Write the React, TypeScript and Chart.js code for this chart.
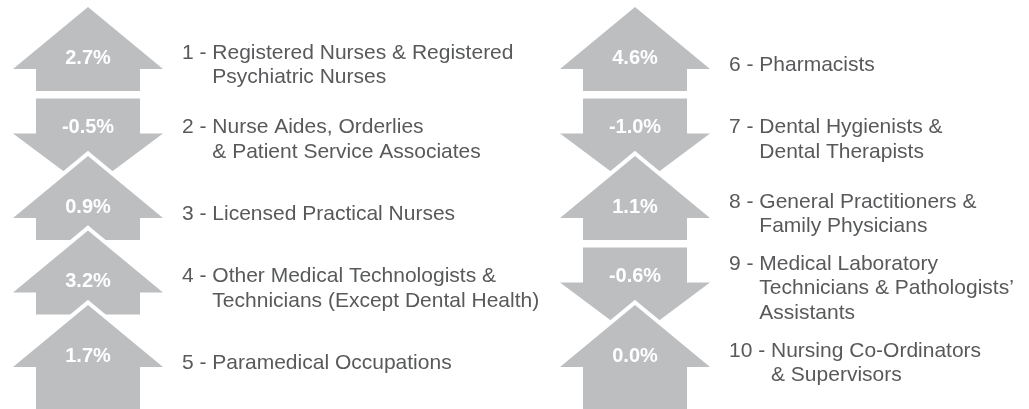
import React, { useEffect, useRef } from "react";
import { Chart, registerables } from "chart.js";

Chart.register(...registerables);

// ---- data ----
const occupationNumbers = [1, 2, 3, 4, 5, 6, 7, 8, 9, 10];
const occupationLines: string[][] = [
  ["Registered Nurses & Registered", "Psychiatric Nurses"],
  ["Nurse Aides, Orderlies", "& Patient Service Associates"],
  ["Licensed Practical Nurses"],
  ["Other Medical Technologists &", "Technicians (Except Dental Health)"],
  ["Paramedical Occupations"],
  ["Pharmacists"],
  ["Dental Hygienists &", "Dental Therapists"],
  ["General Practitioners &", "Family Physicians"],
  ["Medical Laboratory", "Technicians & Pathologists\u2019", "Assistants"],
  ["Nursing Co-Ordinators", "& Supervisors"],
];
const employmentChange = [2.7, -0.5, 0.9, 3.2, 1.7, 4.6, -1.0, 1.1, -0.6, 0.0];

// ---- layout / style constants ----
const ROWS_PER_COLUMN = 5;
const ARROW_FILL = "#bcbec0";
const TEXT_COLOR = "#58595b";
const FONT = '"Liberation Sans", Arial, Helvetica, sans-serif';
const HEAD_HALF = 75;
const SHAFT_HALF = 52;
const UP_HEAD_H = 62;
const UP_SHAFT_END = 84;
const DOWN_TOP = 17;
const DOWN_HEAD_START = 52;
const DOWN_HEAD_H = 56;
const TEXT_DX = 94;
const LINE_H = 24.5;
const TEXT_CENTER_DY = 58;

const COL_PITCH = 547;
const COL0_X = 88;
const ROW_PITCH = 74.5;
const ROW0_Y = 7;
const W = 1029;
const H = 409;

const arrowPlugin = {
  id: "arrowInfographic",
  afterDatasetsDraw(chart: any) {
    const ctx: CanvasRenderingContext2D = chart.ctx;
    const meta = chart.getDatasetMeta(0);
    const bottom = chart.chartArea.bottom;
    ctx.save();
    meta.data.forEach((el: any, i: number) => {
      const cx = el.x;
      const s = el.y;
      const v = employmentChange[i];
      const row = i % ROWS_PER_COLUMN;
      const isLast = row === ROWS_PER_COLUMN - 1;
      let labelY: number;
      ctx.beginPath();
      if (v >= 0) {
        const hb = s + UP_HEAD_H;
        const end = isLast ? bottom + 10 : s + UP_SHAFT_END;
        ctx.moveTo(cx, s);
        ctx.lineTo(cx + HEAD_HALF, hb);
        ctx.lineTo(cx + SHAFT_HALF, hb);
        ctx.lineTo(cx + SHAFT_HALF, end);
        ctx.lineTo(cx - SHAFT_HALF, end);
        ctx.lineTo(cx - SHAFT_HALF, hb);
        ctx.lineTo(cx - HEAD_HALF, hb);
        ctx.closePath();
        labelY = s + 51;
      } else {
        const top = s + DOWN_TOP;
        const hs = s + DOWN_HEAD_START;
        ctx.moveTo(cx - SHAFT_HALF, top);
        ctx.lineTo(cx + SHAFT_HALF, top);
        ctx.lineTo(cx + SHAFT_HALF, hs);
        ctx.lineTo(cx + HEAD_HALF, hs);
        ctx.lineTo(cx, hs + DOWN_HEAD_H);
        ctx.lineTo(cx - HEAD_HALF, hs);
        ctx.lineTo(cx - SHAFT_HALF, hs);
        ctx.closePath();
        labelY = s + 46;
      }
      ctx.lineJoin = "miter";
      ctx.lineWidth = 8;
      ctx.strokeStyle = "#ffffff";
      ctx.stroke();
      ctx.fillStyle = ARROW_FILL;
      ctx.fill();

      // percentage label
      ctx.fillStyle = "#ffffff";
      ctx.font = `bold 20px ${FONT}`;
      ctx.textAlign = "center";
      ctx.textBaseline = "middle";
      ctx.fillText(`${v.toFixed(1)}%`, cx, labelY);

      // description
      const lines = occupationLines[i];
      const prefix = `${occupationNumbers[i]} - `;
      ctx.font = `21px ${FONT}`;
      ctx.fillStyle = TEXT_COLOR;
      ctx.textAlign = "left";
      const tx = cx + TEXT_DX;
      const indent = ctx.measureText(prefix).width;
      const centerY = s + TEXT_CENTER_DY;
      const firstY = centerY - ((lines.length - 1) * LINE_H) / 2;
      lines.forEach((ln, k) => {
        const y = firstY + k * LINE_H;
        if (k === 0) ctx.fillText(prefix + ln, tx, y);
        else ctx.fillText(ln, tx + indent, y);
      });
    });
    ctx.restore();
  },
};

export default function App() {
  const ref = useRef<HTMLCanvasElement | null>(null);
  useEffect(() => {
    if (!ref.current) return;
    const points = employmentChange.map((_, i) => ({
      x: Math.floor(i / ROWS_PER_COLUMN),
      y: i % ROWS_PER_COLUMN,
    }));
    const xMin = -COL0_X / COL_PITCH;
    const yMin = -ROW0_Y / ROW_PITCH;
    const chart = new Chart(ref.current, {
      type: "scatter",
      data: {
        datasets: [
          {
            label: "Employment change",
            data: points,
            pointRadius: 0,
            pointHoverRadius: 0,
          },
        ],
      },
      options: {
        animation: false,
        responsive: false,
        devicePixelRatio: 1,
        layout: { padding: 0 },
        plugins: {
          legend: { display: false },
          tooltip: { enabled: false },
          title: { display: false },
        },
        events: [],
        scales: {
          x: {
            type: "linear",
            display: false,
            min: xMin,
            max: xMin + W / COL_PITCH,
          },
          y: {
            type: "linear",
            display: false,
            reverse: true,
            min: yMin,
            max: yMin + H / ROW_PITCH,
          },
        },
      },
      plugins: [arrowPlugin],
    });
    return () => chart.destroy();
  }, []);
  return (
    <div style={{ position: "fixed", left: 0, top: 0, width: W, height: H, background: "#ffffff" }}>
      <canvas ref={ref} width={W} height={H} style={{ display: "block" }} />
    </div>
  );
}
